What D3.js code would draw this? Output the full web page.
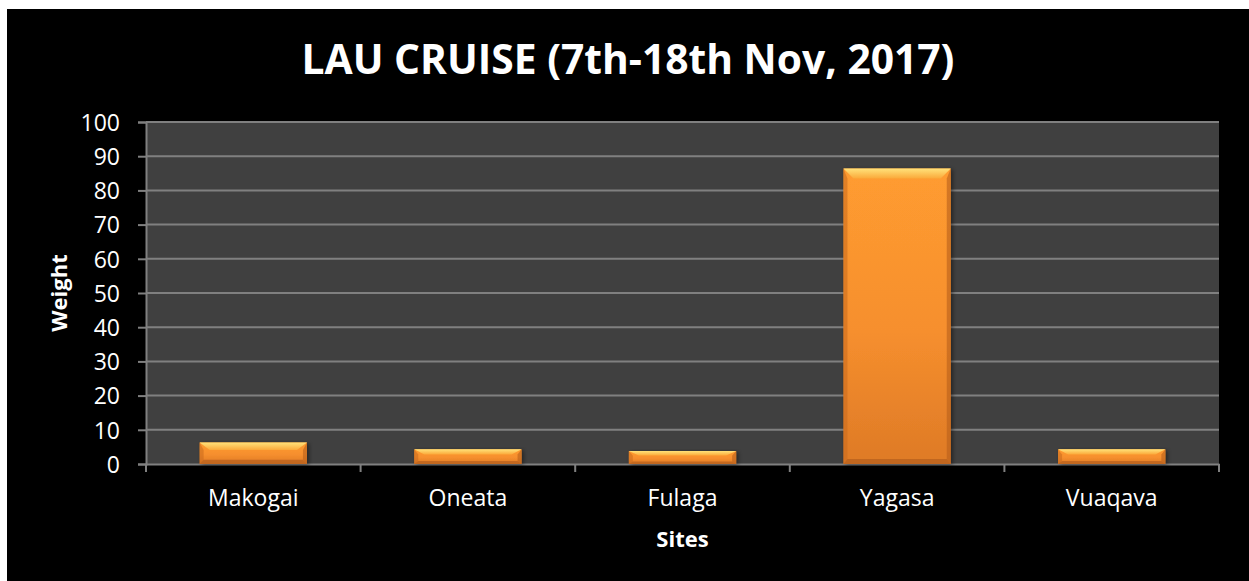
<!DOCTYPE html>
<html>
<head>
<meta charset="utf-8">
<script src="https://cdn.jsdelivr.net/npm/d3@7"></script>
<style>
  html, body { margin: 0; padding: 0; background: #ffffff; }
  svg { display: block; }
</style>
</head>
<body>
<svg id="chart" width="1249" height="581"></svg>
<script>
// ---- data ----
const categories = ["Makogai", "Oneata", "Fulaga", "Yagasa", "Vuaqava"];
const weights = [6.3, 4.3, 3.8, 86.4, 4.3];
const yTicks = [0, 10, 20, 30, 40, 50, 60, 70, 80, 90, 100];
const titleText = "LAU CRUISE (7th-18th Nov, 2017)";
const xTitle = "Sites";
const yTitle = "Weight";

const W = 1249, H = 581;
const plot = { left: 146, right: 1219, top: 122, bottom: 464 };
const FONT = "'Open Sans', 'Noto Sans', sans-serif";

const svg = d3.select("#chart");
const defs = svg.append("defs");

// background
svg.append("rect").attr("x", 7).attr("y", 9).attr("width", W - 7).attr("height", H - 9).attr("fill", "#000");

// gradients
const gMain = defs.append("linearGradient").attr("id", "gMain").attr("x1", 0).attr("y1", 0).attr("x2", 0).attr("y2", 1);
gMain.append("stop").attr("offset", "0%").attr("stop-color", "#FF9C30");
gMain.append("stop").attr("offset", "55%").attr("stop-color", "#F68F2E");
gMain.append("stop").attr("offset", "100%").attr("stop-color", "#DE7A26");
const gTop = defs.append("linearGradient").attr("id", "gTop").attr("x1", 0).attr("y1", 0).attr("x2", 0).attr("y2", 1);
gTop.append("stop").attr("offset", "0%").attr("stop-color", "#FFE27A");
gTop.append("stop").attr("offset", "100%").attr("stop-color", "#FBA93A");
const sh = defs.append("filter").attr("id", "shadow").attr("x", "-10%").attr("y", "-10%").attr("width", "130%").attr("height", "130%");
sh.append("feDropShadow").attr("dx", 2).attr("dy", 1).attr("stdDeviation", 2).attr("flood-color", "#000").attr("flood-opacity", 0.45);

// scales
const x = d3.scaleBand().domain(categories).range([plot.left, plot.right]).paddingInner(0.5).paddingOuter(0.25);
const y = d3.scaleLinear().domain([0, 100]).range([plot.bottom, plot.top]);

// plot area
svg.append("rect").attr("x", plot.left).attr("y", plot.top)
  .attr("width", plot.right - plot.left).attr("height", plot.bottom - plot.top).attr("fill", "#404040");

// gridlines
svg.append("g").selectAll("line").data(yTicks.filter(d => d > 0)).join("line")
  .attr("x1", plot.left).attr("x2", plot.right)
  .attr("y1", d => y(d)).attr("y2", d => y(d))
  .attr("stroke", "#808080").attr("stroke-width", 2);

// y axis
const yAxis = svg.append("g").attr("transform", `translate(${plot.left},0)`)
  .call(d3.axisLeft(y).tickValues(yTicks).tickSize(8).tickPadding(18).tickFormat(d3.format("d")));
yAxis.select(".domain").attr("stroke", "#808080").attr("stroke-width", 2);
yAxis.selectAll(".tick line").attr("stroke", "#808080").attr("stroke-width", 2);
yAxis.selectAll(".tick text").attr("fill", "#fff").attr("font-family", FONT).attr("font-size", 23).attr("dy", "0.36em");

// x axis
const xAxis = svg.append("g").attr("transform", `translate(0,${plot.bottom})`)
  .call(d3.axisBottom(x).tickSize(0).tickPadding(26));
xAxis.select(".domain").attr("stroke", "#808080").attr("stroke-width", 2);
xAxis.selectAll(".tick text").attr("fill", "#fff").attr("font-family", FONT).attr("font-size", 23);
// category boundary ticks
const bounds = categories.map(c => x(c) - x.step() * x.paddingInner() / 2).concat([plot.right]);
svg.append("g").selectAll("line").data(bounds).join("line")
  .attr("x1", d => d).attr("x2", d => d)
  .attr("y1", plot.bottom).attr("y2", plot.bottom + 8)
  .attr("stroke", "#808080").attr("stroke-width", 2);

// bars
const bars = svg.append("g").selectAll("g").data(categories.map((c, i) => ({ c, v: weights[i] }))).join("g");
bars.each(function(d) {
  const g = d3.select(this);
  const bx = x(d.c), bw = x.bandwidth(), by = y(d.v), bh = y(0) - y(d.v);
  const bt = Math.min(10, bh * 0.35), bs = 4, bb = Math.min(5, bh * 0.2);
  g.append("rect").attr("x", bx).attr("y", by).attr("width", bw).attr("height", bh)
    .attr("fill", "url(#gMain)").attr("filter", "url(#shadow)");
  g.append("polygon").attr("points", [[bx, by], [bx + bs, by + bt], [bx + bs, by + bh - bb], [bx, by + bh]].join(" "))
    .attr("fill", "#C86A1E").attr("opacity", 0.55);
  g.append("polygon").attr("points", [[bx + bw, by], [bx + bw - bs, by + bt], [bx + bw - bs, by + bh - bb], [bx + bw, by + bh]].join(" "))
    .attr("fill", "#B85F1A").attr("opacity", 0.6);
  g.append("polygon").attr("points", [[bx, by + bh], [bx + bs, by + bh - bb], [bx + bw - bs, by + bh - bb], [bx + bw, by + bh]].join(" "))
    .attr("fill", "#A8561A").attr("opacity", 0.55);
  g.append("polygon").attr("points", [[bx, by], [bx + bw, by], [bx + bw - bs - 6, by + bt], [bx + bs + 6, by + bt]].join(" "))
    .attr("fill", "url(#gTop)");
});

// title
const title = svg.append("text").attr("x", 628).attr("y", 74).attr("text-anchor", "middle")
  .attr("fill", "#fff").attr("font-family", FONT).attr("font-weight", "bold").attr("font-size", 40)
  .text(titleText);
const tw = title.node().getComputedTextLength();
if (tw > 0) title.attr("font-size", 40 * 653 / tw);

// axis titles
svg.append("text").attr("x", (plot.left + plot.right) / 2).attr("y", 547).attr("text-anchor", "middle")
  .attr("fill", "#fff").attr("font-family", FONT).attr("font-weight", "bold").attr("font-size", 22).text(xTitle);
svg.append("text").attr("transform", `translate(67,${(plot.top + plot.bottom) / 2}) rotate(-90)`)
  .attr("text-anchor", "middle").attr("fill", "#fff").attr("font-family", FONT).attr("font-weight", "bold")
  .attr("font-size", 22).text(yTitle);
</script>
</body>
</html>
